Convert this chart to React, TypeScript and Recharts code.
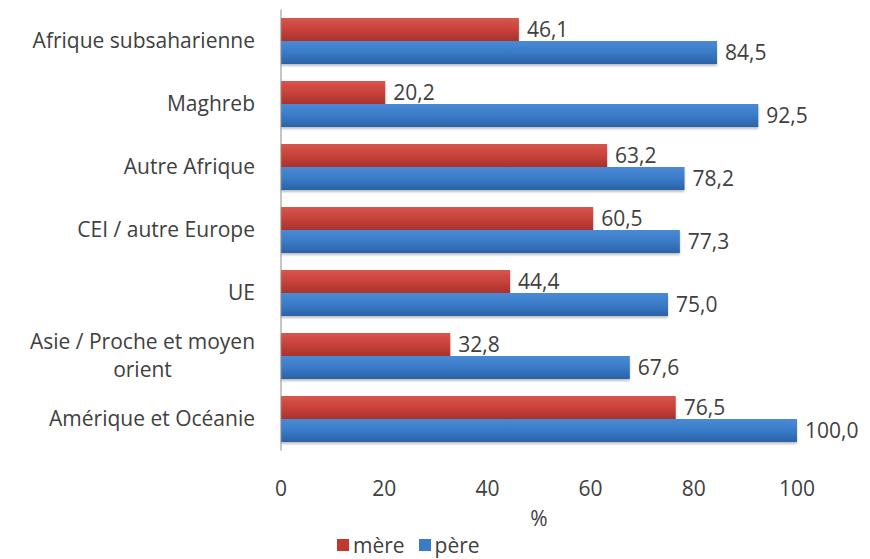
import { BarChart, Bar, XAxis, YAxis, LabelList, Label } from 'recharts';

const regions = [
  'Afrique subsaharienne',
  'Maghreb',
  'Autre Afrique',
  'CEI / autre Europe',
  'UE',
  'Asie / Proche et moyen orient',
  'Amérique et Océanie',
];
const mere = [46.1, 20.2, 63.2, 60.5, 44.4, 32.8, 76.5];
const pere = [84.5, 92.5, 78.2, 77.3, 75.0, 67.6, 100.0];
const xTicks = [0, 20, 40, 60, 80, 100];

const data = regions.map((region, i) => ({ region, mere: mere[i], pere: pere[i] }));

const FONT = '"Open Sans", "DejaVu Sans", sans-serif';
const TEXT = '#404040';
const FS = 21;

const fmt = (v: any) => Number(v).toFixed(1).replace('.', ',');

const wrap = (label: string, max = 22) => {
  const lines: string[] = [];
  let cur = '';
  label.split(' ').forEach((w) => {
    const next = cur ? cur + ' ' + w : w;
    if (next.length > max && cur) {
      lines.push(cur);
      cur = w;
    } else cur = next;
  });
  if (cur) lines.push(cur);
  return lines;
};

const RegionTick = ({ x, y, payload }: any) => {
  const lines = wrap(payload.value);
  if (lines.length === 1) {
    return (
      <text x={x} y={y} dy="0.35em" textAnchor="end" fill={TEXT} fontSize={FS} fontFamily={FONT}>
        {payload.value}
      </text>
    );
  }
  // centre the wrapped lines under the first one, which is right-aligned
  const approxW = lines[0].length * FS * 0.487;
  const cx = x - approxW / 2;
  const top = y - ((lines.length - 1) * 28) / 2;
  return (
    <text fill={TEXT} fontSize={FS} fontFamily={FONT} textAnchor="middle">
      {lines.map((l, i) => (
        <tspan key={i} x={cx} y={top + i * 28} dy="0.35em">
          {l}
        </tspan>
      ))}
    </text>
  );
};

const App = () => {
  return (
    <div style={{ position: 'absolute', left: 0, top: 0, width: 870, height: 559, background: '#fff' }}>
      <BarChart
        width={870}
        height={559}
        data={data}
        layout="vertical"
        margin={{ top: 9.5, right: 73, bottom: 28.5, left: 0 }}
        barCategoryGap="13.5%"
        barGap={0}
      >
        <defs>
          <linearGradient id="gradMere" x1="0" y1="0" x2="0" y2="1">
            <stop offset="0%" stopColor="#d8554c" />
            <stop offset="50%" stopColor="#c8423a" />
            <stop offset="100%" stopColor="#a8322c" />
          </linearGradient>
          <linearGradient id="gradPere" x1="0" y1="0" x2="0" y2="1">
            <stop offset="0%" stopColor="#4a8ad4" />
            <stop offset="50%" stopColor="#3a7bc8" />
            <stop offset="100%" stopColor="#2a62a6" />
          </linearGradient>
          <filter id="barShadow" x="-5%" y="-20%" width="110%" height="160%">
            <feDropShadow dx="0" dy="2" stdDeviation="1.2" floodColor="#000" floodOpacity="0.25" />
          </filter>
        </defs>
        <XAxis
          type="number"
          domain={[0, 100]}
          ticks={xTicks}
          axisLine={false}
          tickLine={false}
          tickSize={0}
          tickMargin={31}
          height={80}
          tick={{ fill: TEXT, fontSize: FS, fontFamily: FONT }}
        >
          <Label value="%" position="insideBottom" offset={5} fill={TEXT} fontSize={FS} fontFamily={FONT} />
        </XAxis>
        <YAxis
          type="category"
          dataKey="region"
          width={281}
          axisLine={{ stroke: '#8c8c8c' }}
          tickLine={false}
          tickSize={0}
          tickMargin={26}
          tick={<RegionTick />}
          interval={0}
        />
        <Bar dataKey="mere" fill="url(#gradMere)" filter="url(#barShadow)" isAnimationActive={false}>
          <LabelList dataKey="mere" position="right" offset={8} formatter={fmt} fill={TEXT} fontSize={FS} fontFamily={FONT} />
        </Bar>
        <Bar dataKey="pere" fill="url(#gradPere)" filter="url(#barShadow)" isAnimationActive={false}>
          <LabelList dataKey="pere" position="right" offset={8} formatter={fmt} fill={TEXT} fontSize={FS} fontFamily={FONT} />
        </Bar>
      </BarChart>
      <div
        style={{
          position: 'absolute',
          top: 530,
          left: 337,
          display: 'flex',
          alignItems: 'center',
          fontFamily: FONT,
          fontSize: FS,
          color: TEXT,
          lineHeight: '30px',
        }}
      >
        <span style={{ width: 12, height: 12, background: '#c0392f', display: 'inline-block', marginRight: 4 }} />
        <span>mère</span>
        <span style={{ width: 12, height: 12, background: '#3a7bc8', display: 'inline-block', marginLeft: 14, marginRight: 4 }} />
        <span>père</span>
      </div>
    </div>
  );
};

export default App;
